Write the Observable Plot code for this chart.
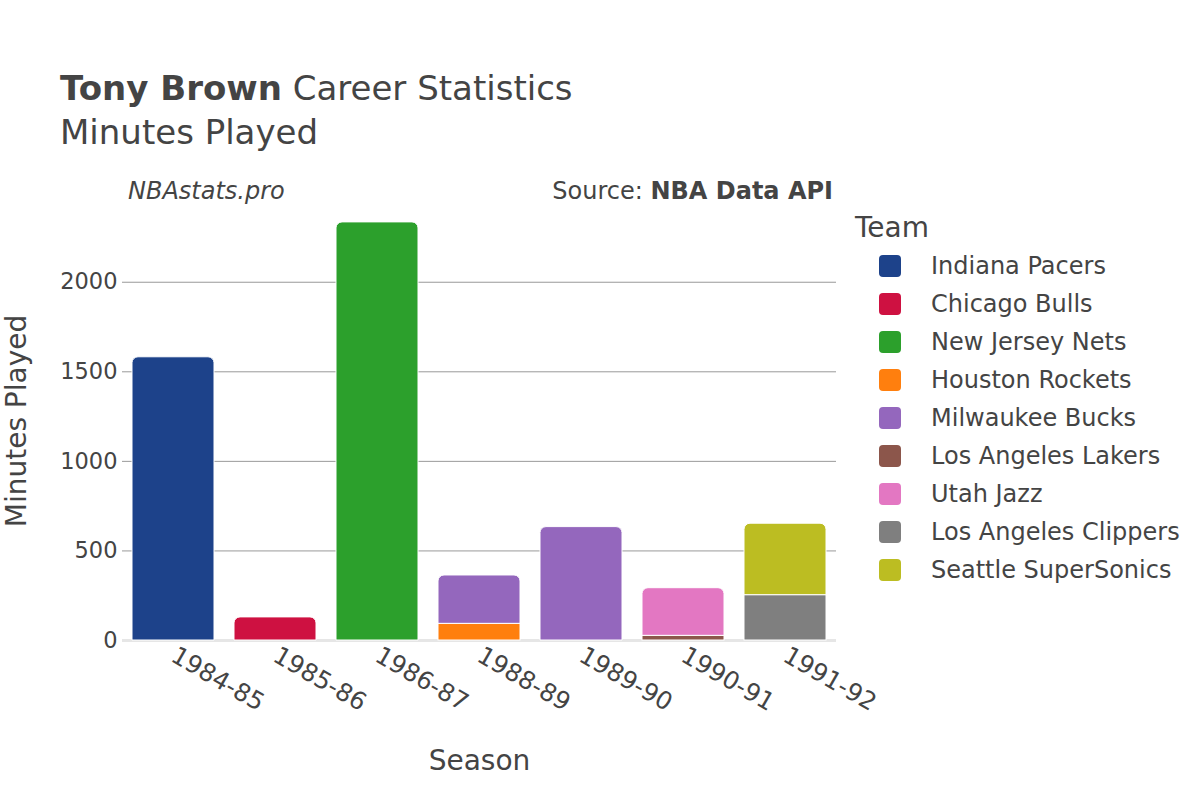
<!DOCTYPE html>
<html>
<head>
<meta charset="utf-8">
<script src="https://cdn.jsdelivr.net/npm/d3@7"></script>
<script src="https://cdn.jsdelivr.net/npm/@observablehq/plot@0.6"></script>
<style>
  html, body { margin: 0; padding: 0; background: white; }
  #root { position: relative; width: 1200px; height: 800px; font-family: "DejaVu Sans", sans-serif; color: #444; overflow: hidden; }
  .abs { position: absolute; white-space: nowrap; z-index: 2; }
  #chart { position: absolute; left: 0; top: 0; z-index: 1; }
  .leg-item { position: absolute; left: 0; display: flex; align-items: center; }
  .sw { width: 22px; height: 22px; border-radius: 4px; margin-left: 24px; margin-right: 30px; }
</style>
</head>
<body>
<div id="root">
  <div id="chart"></div>
  <div class="abs" id="title" style="left:60px; top:68px; font-size:34px; line-height:40px;"><b>Tony Brown</b> Career Statistics</div>
  <div class="abs" id="subtitle" style="left:60px; top:112px; font-size:34px; line-height:40px;">Minutes Played</div>
  <div class="abs" style="left:128px; top:177px; font-size:24px; font-style:italic;">NBAstats.pro</div>
  <div class="abs" style="right:367px; top:177px; font-size:24px;">Source: <b>NBA Data API</b></div>
  <div class="abs" id="legend" style="left:855px; top:209px;"></div>
</div>
<script>
const seasons = ["1984-85", "1985-86", "1986-87", "1988-89", "1989-90", "1990-91", "1991-92"];
const teams = ["Indiana Pacers", "Chicago Bulls", "New Jersey Nets", "Houston Rockets", "Milwaukee Bucks", "Los Angeles Lakers", "Utah Jazz", "Los Angeles Clippers", "Seattle SuperSonics"];
const teamColors = ["#1d428a", "#ce1141", "#2ca02c", "#ff7f0e", "#9467bd", "#8c564b", "#e377c2", "#7f7f7f", "#bcbd22"];
const rowSeason = ["1984-85", "1985-86", "1986-87", "1988-89", "1988-89", "1989-90", "1990-91", "1990-91", "1991-92", "1991-92"];
const rowTeam = ["Indiana Pacers", "Chicago Bulls", "New Jersey Nets", "Houston Rockets", "Milwaukee Bucks", "Milwaukee Bucks", "Los Angeles Lakers", "Utah Jazz", "Los Angeles Clippers", "Seattle SuperSonics"];
const rowMinutes = [1581, 129, 2334, 93, 270, 633, 26, 266, 253, 399];
const yTicks = [0, 500, 1000, 1500, 2000];

// build stacked rows (in team order within each season)
const rows = rowSeason.map((s, i) => ({season: s, team: rowTeam[i], minutes: rowMinutes[i]}));
const stacked = [];
for (const s of seasons) {
  const segs = rows.filter(r => r.season === s).sort((a, b) => teams.indexOf(a.team) - teams.indexOf(b.team));
  let base = 0;
  segs.forEach((r, k) => {
    stacked.push({...r, y1: base, y2: base + r.minutes, top: k === segs.length - 1});
    base += r.minutes;
  });
}
const maxTotal = d3.max(seasons, s => d3.sum(rows.filter(r => r.season === s), r => r.minutes));

const chart = Plot.plot({
  width: 1200,
  height: 800,
  marginLeft: 122,
  marginRight: 364,
  marginTop: 201,
  marginBottom: 160,
  style: {fontFamily: "DejaVu Sans, sans-serif", color: "#444", background: "transparent"},
  x: {domain: seasons, paddingInner: 0.2, paddingOuter: 0.1, label: null},
  y: {domain: [0, maxTotal * 1.05], label: null},
  color: {domain: teams, range: teamColors},
  marks: [
    Plot.gridY(yTicks.filter(t => t > 0), {stroke: "#999", strokeOpacity: 1, strokeWidth: 1}),
    Plot.ruleY([0], {stroke: "#e6e6e6", strokeWidth: 3}),
    Plot.barY(stacked.filter(d => !d.top), {x: "season", y1: "y1", y2: "y2", fill: "team", stroke: "white", strokeWidth: 1}),
    Plot.barY(stacked.filter(d => d.top), {x: "season", y1: "y1", y2: "y2", fill: "team", stroke: "white", strokeWidth: 1, ry1: 6, rx1y1: 6, rx2y1: 6}),
    Plot.axisY({ticks: yTicks, tickSize: 0, tickPadding: 5, fontSize: 22.5, label: null, tickFormat: d => String(d)}),
    Plot.axisX({tickSize: 0, tickPadding: 13, tickRotate: 30, fontSize: 24.5, label: null}),
    Plot.text(["Minutes Played"], {frameAnchor: "left", textAnchor: "middle", dx: -105, rotate: -90, fontSize: 28, fill: "#444"}),
    Plot.text(["Season"], {frameAnchor: "bottom", dy: 129, fontSize: 28, fill: "#444"})
  ]
});
document.getElementById("chart").appendChild(chart);

// legend
const leg = document.getElementById("legend");
const lt = document.createElement("div");
lt.textContent = "Team";
lt.style.cssText = "position:absolute;left:0;top:2px;font-size:28px;";
leg.appendChild(lt);
teams.forEach((t, i) => {
  const item = document.createElement("div");
  item.className = "leg-item";
  item.style.top = (43 + i * 38) + "px";
  const sw = document.createElement("div");
  sw.className = "sw";
  sw.style.background = teamColors[i];
  const tx = document.createElement("span");
  tx.textContent = t;
  tx.style.fontSize = "24px";
  item.appendChild(sw);
  item.appendChild(tx);
  leg.appendChild(item);
});
</script>
</body>
</html>
